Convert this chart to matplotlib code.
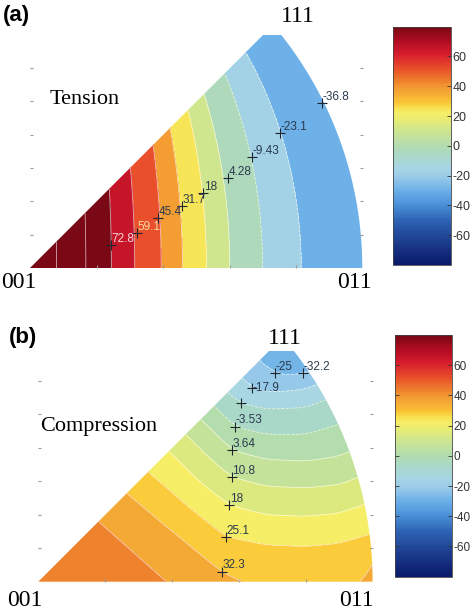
import numpy as np
import matplotlib
matplotlib.use('Agg')
import matplotlib.pyplot as plt
from matplotlib.colors import LinearSegmentedColormap, Normalize
from matplotlib.path import Path
from matplotlib.patches import PathPatch
import matplotlib.cm as cm

plt.rcParams['font.family'] = ['Liberation Sans', 'DejaVu Sans']
plt.rcParams['axes.unicode_minus'] = False

# colour scale (value -> colour)
cbar_vals = [-80, -65, -50, -40, -30, -21, -15, -7, 0, 7, 12, 16, 22, 26, 29, 36, 42, 52, 62, 71, 80]
cbar_cols = ['#0b1a6a', '#1c3c8e', '#2e64b4', '#4a90d8', '#6cb0e8', '#9acbe9', '#a8d6e4',
             '#aad8c8', '#b2dcb0', '#c5e29a', '#d2e68a', '#e2eb78', '#f5ee66', '#f8e050',
             '#fac534', '#f5a935', '#f08c2e', '#e8502a', '#d81c2e', '#b00c22', '#7a0815']
cbar_ticks = [-60, -40, -20, 0, 20, 40, 60]

# (a) tension: value along the 001-011 edge (position as fraction of the edge)
a_pos = [0.0, 0.080, 0.168, 0.245, 0.315, 0.395, 0.459, 0.531, 0.601, 0.700, 0.816, 1.0, 1.2]
a_val = [112, 100.2, 86.5, 72.8, 59.1, 45.4, 31.7, 18, 4.28, -9.43, -23.1, -35.5, -42]
a_levels = [-50.5, -36.8, -23.1, -9.43, 4.28, 18, 31.7, 45.4, 59.1, 72.8, 86.5, 100.2, 113.9]
a_mark_x = [0.243, 0.320, 0.384, 0.456, 0.520, 0.595, 0.666, 0.751, 0.876]
a_mark_y = [0.069, 0.104, 0.150, 0.186, 0.225, 0.270, 0.334, 0.405, 0.495]
a_mark_txt = ['72.8', '59.1', '45.4', '31.7', '18', '4.28', '-9.43', '-23.1', '-36.8']

# (b) compression: contour lines, (x, y) knots per level
b_line_vals = [45, 39.5, 32.3, 25.1, 18, 10.8, 3.64, -3.53, -10.7, -17.9, -25, -31]
b_line_knots = [
    [(0, -0.10), (1, -0.99)],
    [(0, 0.34), (0.18, 0.18), (0.383, 0.0), (1.0, -0.5)],
    [(0, 0.48), (0.264, 0.264), (0.40, 0.15), (0.547, 0.03), (0.65, -0.02), (0.80, -0.035),
     (0.93, -0.015), (0.97, 0.0), (1.0, 0.06)],
    [(0, 0.60), (0.328, 0.328), (0.44, 0.23), (0.56, 0.134), (0.68, 0.11), (0.80, 0.105),
     (0.90, 0.115), (1.0, 0.145)],
    [(0, 0.737), (0.39, 0.39), (0.48, 0.30), (0.57, 0.229), (0.68, 0.20), (0.80, 0.195),
     (0.90, 0.205), (1.0, 0.24)],
    [(0, 0.85), (0.44, 0.44), (0.51, 0.37), (0.577, 0.313), (0.68, 0.285), (0.80, 0.28),
     (0.90, 0.29), (1.0, 0.33)],
    [(0, 0.93), (0.485, 0.485), (0.579, 0.393), (0.68, 0.365), (0.80, 0.36), (0.90, 0.375),
     (1.0, 0.42)],
    [(0, 1.0), (0.525, 0.525), (0.587, 0.463), (0.68, 0.44), (0.80, 0.44), (0.90, 0.47),
     (1.0, 0.52)],
    [(0, 1.06), (0.565, 0.565), (0.604, 0.533), (0.68, 0.515), (0.80, 0.52), (0.90, 0.56),
     (1.0, 0.62)],
    [(0, 1.12), (0.61, 0.61), (0.637, 0.577), (0.70, 0.565), (0.80, 0.575), (0.90, 0.62),
     (1.0, 0.68)],
    [(0, 1.2), (0.66, 0.66), (0.707, 0.622), (0.76, 0.615), (0.85, 0.64), (1.0, 0.72)],
    [(0, 1.3), (1.0, 0.8)],
]
b_levels = [-39.4, -32.2, -25, -17.9, -10.7, -3.53, 3.64, 10.8, 18, 25.1, 32.3, 39.5, 46.7]
b_mark_x = [0.547, 0.560, 0.570, 0.577, 0.579, 0.587, 0.604, 0.637, 0.707, 0.789]
b_mark_y = [0.030, 0.134, 0.229, 0.313, 0.393, 0.463, 0.533, 0.577, 0.622, 0.622]
b_mark_txt = ['32.3', '25.1', '18', '10.8', '3.64', '-3.53', '', '-17.9', '-25', '-32.2']

W, H = 475, 615
cmap = LinearSegmentedColormap.from_list(
    'ipf', [((v + 80) / 160, c) for v, c in zip(cbar_vals, cbar_cols)], N=128)
norm = Normalize(-80, 80)


def edge_x(y):
    # the 011-111 boundary of the standard triangle
    return -0.13 + np.sqrt(1.272 - y ** 2)


def triangle_path(ytop):
    ys = np.linspace(0, ytop, 80)
    verts = np.vstack([[[0, 0]], np.column_stack([edge_x(ys), ys]), [[ytop, ytop]], [[0, 0]]])
    return Path(verts)


def smooth(v, w=12):
    pad = np.pad(v, w, mode='reflect', reflect_type='odd')
    k = np.ones(2 * w + 1) / (2 * w + 1)
    return np.convolve(pad, k, mode='same')[w:-w]


def fig_rect(x0, y0, x1, y1):
    return [x0 / W, 1 - y1 / H, (x1 - x0) / W, (y1 - y0) / H]


def draw_panel(ax, X, Y, V, levels, ytop):
    cs = ax.contourf(X, Y, V, levels=levels, cmap=cmap, norm=norm)
    cl = ax.contour(X, Y, V, levels=levels, colors='white', linewidths=0.6, alpha=0.65)
    patch = PathPatch(triangle_path(ytop), facecolor='none', edgecolor='none')
    ax.add_patch(patch)
    cs.set_clip_path(patch)
    cl.set_clip_path(patch)
    ax.set_xlim(0, 1)
    ax.set_ylim(0, ytop)
    ax.set_xticks([0.2, 0.4, 0.6, 0.8])
    ax.set_yticks([0.1, 0.2, 0.3, 0.4, 0.5, 0.6])
    ax.tick_params(direction='in', length=2.5, width=0.8, colors='#9a9a9a',
                   left=True, right=True, bottom=True, top=False,
                   labelleft=False, labelbottom=False)
    for s in ax.spines.values():
        s.set_visible(False)
    ax.patch.set_visible(False)


def draw_marks(ax, xs, ys, txts, colors, offsets):
    ax.plot(xs, ys, '+', color='#1c2530', ms=6.5, mew=0.8, clip_on=False, zorder=5)
    for x, y, t, c, o in zip(xs, ys, txts, colors, offsets):
        ax.annotate(t, (x, y), xytext=o, textcoords='offset points', fontsize=8.5,
                    color=c, ha='left', va='center', zorder=6)


def draw_cbar(rect, size=9):
    cax = fig.add_axes(rect)
    cb = fig.colorbar(cm.ScalarMappable(norm=norm, cmap=cmap), cax=cax, ticks=cbar_ticks)
    cb.outline.set_linewidth(0.6)
    cb.outline.set_edgecolor('#444444')
    cax.yaxis.set_ticks_position('both')
    cax.yaxis.set_label_position('right')
    cax.tick_params(direction='in', length=3, width=0.6, color='#333333',
                    labelsize=size, labelcolor='#333333', pad=1.5,
                    labelright=True, labelleft=False)


fig = plt.figure(figsize=(W / 100, H / 100), dpi=100)

# ---- (a) tension
ytop_a = 0.70
xg = np.linspace(0, 1.0, 401)
yg = np.linspace(0, 0.72, 301)
X, Y = np.meshgrid(xg, yg)
Va = np.interp(X / edge_x(Y), a_pos, a_val)

ax_a = fig.add_axes(fig_rect(30, 268 - ytop_a * 333, 363, 268))
draw_panel(ax_a, X, Y, Va, a_levels, ytop_a)
dark = '#2b3a4e'
a_cols = ['#f6d6dc', '#f7dba4'] + [dark] * 7
draw_marks(ax_a, a_mark_x, a_mark_y, a_mark_txt, a_cols, [(0.5, 4.5)] * len(a_mark_x))
draw_cbar(fig_rect(393.3, 26.7, 450.7, 265))

# ---- (b) compression
ytop_b = 0.69
lines = []
for knots in b_line_knots:
    kx, ky = zip(*knots)
    lines.append(smooth(np.interp(xg, kx, ky)))
lines = np.array(lines)
Vb = np.empty_like(X)
for j in range(len(xg)):
    Vb[:, j] = np.interp(yg, lines[:, j], b_line_vals)

ax_b = fig.add_axes(fig_rect(38.3, 581.7 - ytop_b * 335, 373.3, 581.7))
draw_panel(ax_b, X, Y, Vb, b_levels, ytop_b)
b_offs = [(0.5, 4.5)] * len(b_mark_x)
b_offs[7] = (0.5, 0)
draw_marks(ax_b, b_mark_x, b_mark_y, b_mark_txt, [dark] * len(b_mark_x), b_offs)
draw_cbar(fig_rect(395, 335, 451.5, 576.7), size=8.5)

# ---- text labels
serif = ['Liberation Serif', 'DejaVu Serif']


def ftext(px, py, s, **kw):
    fig.text(px / W, 1 - py / H, s, **kw)


ftext(3, 16, '(a)', fontsize=16, fontweight='bold', va='center', ha='left')
ftext(298, 17, '111', fontsize=17, family=serif, va='center', ha='center')
ftext(50, 100, 'Tension', fontsize=16, family=serif, va='center', ha='left')
ftext(1, 283, '001', fontsize=17, family=serif, va='center', ha='left')
ftext(372, 283, '011', fontsize=17, family=serif, va='center', ha='right')

ftext(9, 337, '(b)', fontsize=16, fontweight='bold', va='center', ha='left')
ftext(285, 339, '111', fontsize=17, family=serif, va='center', ha='center')
ftext(40, 427, 'Compression', fontsize=16, family=serif, va='center', ha='left')
ftext(7, 601, '001', fontsize=17, family=serif, va='center', ha='left')
ftext(374, 601, '011', fontsize=17, family=serif, va='center', ha='right')

fig.savefig('out.png', dpi=100)
